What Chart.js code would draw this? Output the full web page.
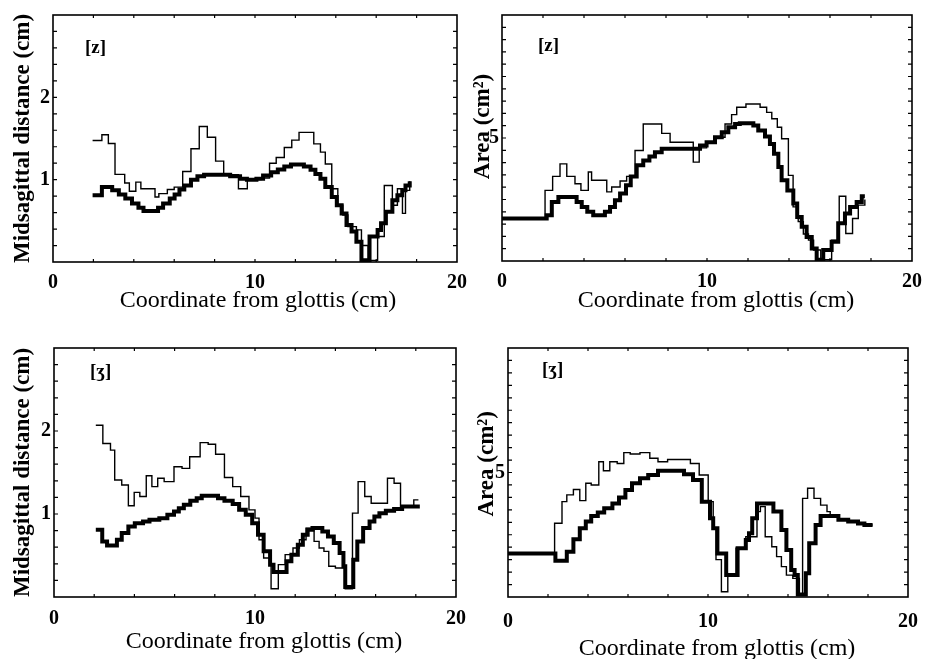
<!DOCTYPE html>
<html>
<head>
<meta charset="utf-8">
<script src="https://cdn.jsdelivr.net/npm/chart.js@4.4.1/dist/chart.umd.min.js"></script>
<style>
  html, body { margin: 0; padding: 0; background: #fff; }
  body { width: 931px; height: 659px; position: relative; overflow: hidden; }
  canvas { position: absolute; }
</style>
</head>
<body>
<canvas id="zMid" width="476" height="320" style="left:0;top:0"></canvas>
<canvas id="zArea" width="471" height="320" style="left:460px;top:0"></canvas>
<canvas id="ezhMid" width="476" height="345" style="left:0;top:320px"></canvas>
<canvas id="ezhArea" width="471" height="345" style="left:460px;top:320px"></canvas>
<script>
// x breakpoints (cm from glottis); each y value holds from its x to the next one
// [z] midsagittal distance (cm)
const zMidThinX  = [1.96, 2.42, 2.74, 3.07, 3.55, 3.78, 4.1, 4.35, 5.05, 5.24, 5.66, 6.0, 6.42, 6.83, 7.24, 7.64, 8.05, 8.45, 9.18, 9.62, 10.3, 10.72, 11.05, 11.45, 11.82, 12.18, 12.91, 13.24, 13.48, 13.8, 14.1, 14.35, 14.6, 15.02, 15.27, 15.6, 16.07, 16.4, 16.8, 17.05, 17.3, 17.45, 17.66];
const zMidThinY  = [1.475, 1.545, 1.44, 1.064, 0.96, 0.86, 0.97, 0.89, 0.79, 0.83, 0.88, 0.91, 1.10, 1.375, 1.645, 1.515, 1.225, 1.06, 0.89, 1.0, 1.02, 1.2, 1.27, 1.39, 1.48, 1.575, 1.435, 1.335, 1.19, 0.89, 0.69, 0.57, 0.43, 0.39, 0.2, 0.02, 0.31, 0.93, 0.69, 0.89, 0.59, 0.87, 0.98];
const zMidThickX = [1.96, 2.42, 2.93, 3.26, 3.58, 3.91, 4.23, 4.48, 5.2, 5.45, 5.78, 6.02, 6.26, 6.5, 6.83, 7.15, 7.48, 8.77, 9.26, 9.6, 10.07, 10.4, 10.8, 11.13, 11.45, 11.78, 12.42, 12.75, 12.99, 13.24, 13.48, 13.8, 14.05, 14.29, 14.53, 14.78, 15.02, 15.27, 15.67, 16.07, 16.24, 16.48, 16.8, 17.05, 17.29, 17.45, 17.66];
const zMidThickY = [0.81, 0.91, 0.87, 0.82, 0.77, 0.71, 0.66, 0.62, 0.66, 0.71, 0.77, 0.82, 0.88, 0.93, 1.0, 1.04, 1.06, 1.04, 1.01, 1.0, 1.01, 1.05, 1.09, 1.125, 1.16, 1.185, 1.16, 1.12, 1.07, 1.01, 0.91, 0.79, 0.69, 0.59, 0.45, 0.37, 0.245, 0.02, 0.31, 0.39, 0.47, 0.61, 0.75, 0.81, 0.87, 0.93, 0.98];

// [z] area (cm^2)
const zAreaThinX  = [0, 2.1, 2.47, 2.83, 3.16, 3.56, 3.85, 4.21, 4.37, 5.11, 5.35, 5.76, 6.08, 6.49, 6.89, 7.79, 8.2, 9.33, 9.62, 9.98, 10.39, 10.88, 11.2, 11.45, 11.9, 12.59, 12.91, 13.16, 13.43, 13.64, 13.97, 14.2, 14.45, 14.7, 14.95, 15.2, 15.55, 16.08, 16.45, 16.77, 17.1, 17.38, 17.7];
const zAreaThinY  = [1.75, 2.87, 3.44, 3.95, 3.44, 3.14, 2.87, 3.62, 3.28, 2.81, 3.01, 3.25, 3.44, 4.49, 5.57, 5.19, 4.83, 4.02, 4.6, 4.83, 5.03, 5.57, 5.95, 6.25, 6.38, 6.25, 6.04, 5.78, 5.44, 4.97, 3.48, 2.2, 1.6, 1.1, 0.85, 0.45, 0.05, 0.85, 2.63, 1.12, 1.73, 2.27, 2.5];
const zAreaThickX = [0, 2.18, 2.43, 2.75, 3.64, 3.89, 4.16, 4.45, 5.02, 5.27, 5.51, 5.76, 6.05, 6.28, 6.57, 6.89, 7.19, 7.46, 7.79, 9.66, 9.98, 10.39, 10.72, 11.04, 11.37, 11.6, 12.26, 12.5, 12.83, 13.07, 13.27, 13.48, 13.64, 13.92, 14.21, 14.4, 14.62, 14.86, 15.11, 15.35, 15.67, 16.08, 16.4, 16.73, 16.98, 17.3, 17.55, 17.7];
const zAreaThickY = [1.73, 1.86, 2.4, 2.6, 2.4, 2.2, 2.0, 1.86, 2.0, 2.2, 2.47, 2.74, 3.08, 3.44, 3.89, 4.09, 4.25, 4.42, 4.56, 4.7, 4.83, 5.03, 5.23, 5.44, 5.57, 5.6, 5.51, 5.3, 5.06, 4.76, 4.36, 3.82, 3.28, 2.87, 2.34, 1.79, 1.39, 0.98, 0.51, 0.05, 0.45, 0.78, 1.53, 1.93, 2.2, 2.4, 2.63, 2.63];

// [ʒ] midsagittal distance (cm)
const ezhMidThinX  = [2.08, 2.43, 2.81, 3.02, 3.37, 3.7, 3.99, 4.27, 4.59, 4.87, 5.16, 5.48, 5.97, 6.37, 6.75, 7.27, 7.67, 8.04, 8.48, 8.89, 9.29, 9.7, 10.0, 10.2, 10.43, 10.8, 11.16, 11.5, 11.89, 12.21, 12.54, 12.94, 13.19, 13.43, 13.67, 14.0, 14.49, 14.85, 15.13, 15.46, 15.78, 16.59, 16.92, 17.24, 17.9, 18.13];
const ezhMidThinY  = [2.07, 1.85, 1.77, 1.41, 1.35, 1.1, 1.26, 1.21, 1.46, 1.33, 1.43, 1.39, 1.57, 1.55, 1.69, 1.86, 1.84, 1.72, 1.44, 1.33, 1.21, 1.05, 0.95, 0.69, 0.47, 0.1, 0.39, 0.51, 0.59, 0.69, 0.83, 0.67, 0.59, 0.55, 0.37, 0.35, 0.1, 1.01, 1.39, 1.21, 1.13, 1.43, 1.37, 1.09, 1.17, 1.17];
const ezhMidThickX = [2.08, 2.4, 2.64, 3.13, 3.37, 3.7, 4.02, 4.43, 4.75, 5.24, 5.64, 5.97, 6.21, 6.46, 6.78, 7.1, 7.35, 8.16, 8.48, 8.89, 9.21, 9.54, 9.86, 10.15, 10.43, 10.75, 10.92, 11.57, 11.81, 12.13, 12.38, 12.62, 12.86, 13.35, 13.63, 13.92, 14.21, 14.4, 14.49, 14.89, 15.09, 15.38, 15.7, 15.94, 16.19, 16.51, 16.92, 17.32, 18.2];
const ezhMidThickY = [0.81, 0.67, 0.62, 0.69, 0.77, 0.85, 0.89, 0.91, 0.93, 0.95, 0.99, 1.03, 1.07, 1.11, 1.16, 1.19, 1.22, 1.19, 1.16, 1.12, 1.05, 0.99, 0.89, 0.75, 0.55, 0.39, 0.3, 0.43, 0.51, 0.63, 0.75, 0.81, 0.83, 0.79, 0.73, 0.65, 0.53, 0.37, 0.12, 0.45, 0.67, 0.83, 0.91, 0.97, 1.01, 1.04, 1.06, 1.09, 1.09];

// [ʒ] area (cm^2)
const ezhAreaThinX  = [0, 2.33, 2.7, 2.94, 3.27, 3.59, 3.89, 4.16, 4.54, 4.77, 5.09, 5.46, 5.79, 6.11, 6.6, 7.09, 7.5, 7.98, 9.12, 9.56, 10.01, 10.26, 10.4, 10.67, 10.99, 11.4, 11.89, 12.45, 12.62, 12.86, 13.19, 13.43, 13.67, 13.92, 14.24, 14.57, 14.73, 14.98, 15.3, 15.63, 15.95, 16.11, 16.52, 17.01, 17.5, 17.82, 18.23];
const ezhAreaThinY  = [1.75, 2.96, 3.83, 4.1, 4.32, 3.87, 4.57, 4.5, 5.43, 5.07, 5.43, 5.36, 5.8, 5.74, 5.8, 5.57, 5.43, 5.52, 5.36, 4.9, 3.83, 2.76, 1.5, 0.21, 0.88, 1.96, 2.42, 3.43, 3.63, 2.42, 2.02, 1.62, 1.22, 0.88, 0.75, 0.1, 3.96, 4.37, 3.96, 3.69, 3.43, 3.3, 3.1, 3.03, 2.95, 2.89, 2.89];
const ezhAreaThickX = [0, 2.37, 2.94, 3.27, 3.59, 3.89, 4.16, 4.49, 4.81, 5.22, 5.55, 5.87, 6.2, 6.6, 7.01, 7.5, 8.8, 9.25, 9.69, 10.1, 10.26, 10.47, 10.91, 11.48, 11.89, 12.05, 12.21, 12.45, 13.27, 13.67, 13.92, 14.16, 14.33, 14.49, 14.89, 15.06, 15.38, 15.63, 16.52, 17.01, 17.5, 17.82, 18.23];
const ezhAreaThickY = [1.75, 1.46, 1.82, 2.32, 2.76, 3.03, 3.25, 3.39, 3.56, 3.76, 4.0, 4.3, 4.57, 4.77, 4.9, 5.07, 4.93, 4.7, 3.83, 3.16, 2.76, 1.75, 0.88, 1.96, 2.29, 2.56, 3.16, 3.76, 3.43, 2.69, 1.89, 1.08, 0.88, 0.1, 0.95, 2.16, 2.89, 3.25, 3.1, 3.03, 2.95, 2.89, 2.89];

const xTickLabels = ['0', '10', '20'];
const midTickLabels = ['1', '2'];
const areaTickLabels = ['5'];

const SERIF = "'Liberation Serif', 'DejaVu Serif', serif";

const pts = (xs, ys) => xs.map((x, i) => ({ x, y: ys[i] }));

// box round the plot, small inward ticks on all four sides, and the [z]/[ʒ] tag
const panelFrame = {
  id: 'panelFrame',
  afterDatasetsDraw(chart, args, opts) {
    const { ctx, chartArea: a, scales } = chart;
    const xs = scales.x, ys = scales.y;
    ctx.save();
    ctx.strokeStyle = '#000';
    ctx.lineWidth = 1.6;
    ctx.strokeRect(a.left, a.top, a.right - a.left, a.bottom - a.top);
    ctx.lineWidth = 1.2;
    ctx.beginPath();
    const nY = Math.round((ys.max - ys.min) / opts.yMinor);
    for (let i = 1; i < nY; i++) {
      const py = ys.getPixelForValue(ys.min + i * opts.yMinor);
      ctx.moveTo(a.left, py); ctx.lineTo(a.left + 4, py);
      ctx.moveTo(a.right, py); ctx.lineTo(a.right - 4, py);
    }
    for (let i = 1; i < 10; i++) {
      const px = xs.getPixelForValue(i * 2);
      ctx.moveTo(px, a.bottom); ctx.lineTo(px, a.bottom - 3);
      ctx.moveTo(px, a.top); ctx.lineTo(px, a.top + 3);
    }
    ctx.stroke();
    ctx.fillStyle = '#000';
    ctx.font = 'bold 19px ' + SERIF;
    ctx.textBaseline = 'middle';
    ctx.fillText(opts.tag, a.left + opts.tagDx, a.top + opts.tagDy);
    ctx.restore();
  },
};

function makePanel(id, p) {
  const yLabels = p.yLabels;
  return new Chart(document.getElementById(id), {
    type: 'line',
    data: {
      datasets: [
        { data: pts(p.thinX, p.thinY), borderColor: '#000', borderWidth: 1.4, stepped: 'before', pointRadius: 0, fill: false },
        { data: pts(p.thickX, p.thickY), borderColor: '#000', borderWidth: 4, stepped: 'before', pointRadius: 0, fill: false },
      ],
    },
    options: {
      responsive: false,
      animation: false,
      events: [],
      layout: { padding: { top: p.padTop, right: p.padRight, left: 0, bottom: 0 } },
      plugins: {
        legend: { display: false },
        tooltip: { enabled: false },
        panelFrame: { yMinor: p.yMinor, tag: p.tag, tagDx: p.tagDx, tagDy: p.tagDy },
      },
      scales: {
        x: {
          type: 'linear', min: 0, max: 20,
          grid: { display: false, drawTicks: false }, border: { display: false },
          ticks: {
            stepSize: 10, padding: p.xTickPad, color: '#000', maxRotation: 0,
            font: { family: SERIF, size: 20, weight: 'bold' },
            callback: (v) => xTickLabels[v / 10] ?? '',
          },
          title: {
            display: true, text: p.xTitle, color: '#000',
            font: { family: SERIF, size: 24 }, padding: { top: 0, bottom: p.xTitlePad },
          },
          afterFit: (s) => { s.height = p.xH; },
        },
        y: {
          type: 'linear', min: 0, max: p.yMax,
          grid: { display: false, drawTicks: false }, border: { display: false },
          ticks: {
            stepSize: p.yStep, padding: 3, color: '#000',
            font: { family: SERIF, size: 20, weight: 'bold' },
            callback: (v) => (yLabels.includes(String(v)) ? String(v) : ''),
          },
          title: {
            display: true, text: p.yTitle, color: '#000',
            font: { family: SERIF, size: 23, weight: 'bold' }, padding: { top: p.yTitlePad, bottom: 0 },
          },
          afterFit: (s) => { s.width = p.yW; },
        },
      },
    },
    plugins: [panelFrame],
  });
}

const xTitle = '   Coordinate from glottis (cm)';

makePanel('zMid', {
  thinX: zMidThinX, thinY: zMidThinY, thickX: zMidThickX, thickY: zMidThickY,
  yMax: 3, yStep: 1, yMinor: 0.2, yLabels: midTickLabels,
  yTitle: 'Midsagittal distance (cm)', xTitle: ' Coordinate from glottis (cm)',
  tag: '[z]', tagDx: 32, tagDy: 33,
  padTop: 14, padRight: 12, yW: 53, xH: 58, xTickPad: 9, xTitlePad: 5, yTitlePad: 9,
});
makePanel('zArea', {
  thinX: zAreaThinX, thinY: zAreaThinY, thickX: zAreaThickX, thickY: zAreaThickY,
  yMax: 10, yStep: 5, yMinor: 0.5, yLabels: areaTickLabels,
  yTitle: '    Area (cm²)', xTitle: xTitle,
  tag: '[z]', tagDx: 36, tagDy: 31,
  padTop: 14, padRight: 19, yW: 42, xH: 59, xTickPad: 9, xTitlePad: 5, yTitlePad: 9,
});
makePanel('ezhMid', {
  thinX: ezhMidThinX, thinY: ezhMidThinY, thickX: ezhMidThickX, thickY: ezhMidThickY,
  yMax: 3, yStep: 1, yMinor: 0.2, yLabels: midTickLabels,
  yTitle: 'Midsagittal distance (cm)', xTitle: xTitle,
  tag: '[ʒ]', tagDx: 36, tagDy: 24,
  padTop: 28, padRight: 11, yW: 54, xH: 68, xTickPad: 10, xTitlePad: 9, yTitlePad: 9,
});
makePanel('ezhArea', {
  thinX: ezhAreaThinX, thinY: ezhAreaThinY, thickX: ezhAreaThickX, thickY: ezhAreaThickY,
  yMax: 10, yStep: 5, yMinor: 0.5, yLabels: areaTickLabels,
  yTitle: '   Area (cm²)', xTitle: xTitle,
  tag: '[ʒ]', tagDx: 34, tagDy: 22,
  padTop: 28, padRight: 13, yW: 48, xH: 68, xTickPad: 13, xTitlePad: 2, yTitlePad: 13,
});
</script>
</body>
</html>
